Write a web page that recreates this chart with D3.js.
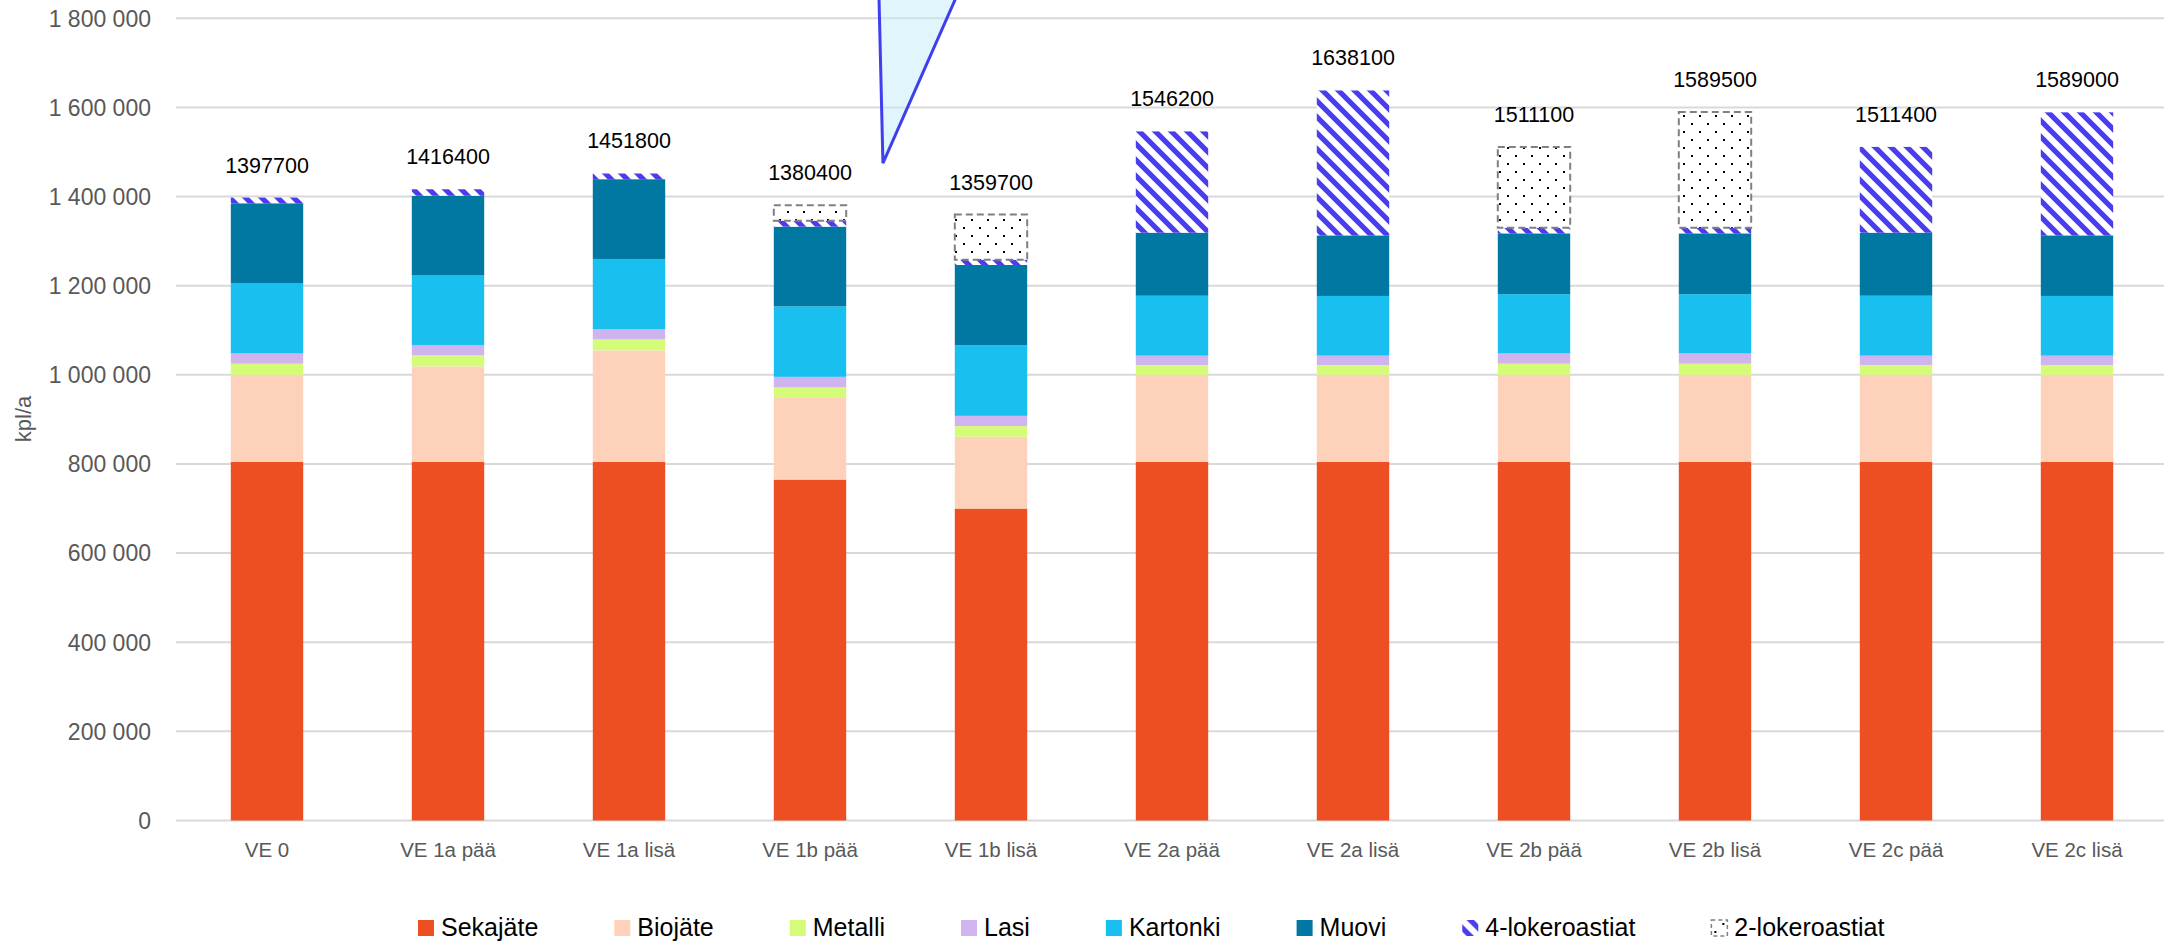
<!DOCTYPE html>
<html>
<head>
<meta charset="utf-8">
<script src="https://cdn.jsdelivr.net/npm/d3@7"></script>
<style>
  html, body { margin: 0; padding: 0; background: #fff; }
  svg { display: block; }
  text { font-family: "Liberation Sans", Arial, sans-serif; }
</style>
</head>
<body>
<svg id="chart" width="2164" height="942"></svg>
<script>
// ---------- data ----------
const categories = ['VE 0','VE 1a pää','VE 1a lisä','VE 1b pää','VE 1b lisä','VE 2a pää','VE 2a lisä','VE 2b pää','VE 2b lisä','VE 2c pää','VE 2c lisä'];
const seriesNames = ['Sekajäte','Biojäte','Metalli','Lasi','Kartonki','Muovi','4-lokeroastiat','2-lokeroastiat'];
const sekajate  = [805000,805000,805000,765000,700000,805000,805000,805000,805000,805000,805000];
const biojate   = [195000,214000,250000,183000,161000,195000,195000,195000,195000,195000,195000];
const metalli   = [25000,25000,24500,24000,24000,22000,22000,25000,25000,22000,22000];
const lasi      = [23000,23000,22500,23500,23000,21000,21000,23000,23000,21000,21000];
const kartonki  = [158000,157000,158000,158000,158500,134500,134000,133000,133000,134500,134000];
const muovi     = [179000,178000,179000,179000,180000,141500,136000,136500,136500,141500,136000];
const lokero4   = [12700,14400,12800,13500,12000,227200,325100,12500,12500,192400,276000];
const lokero2   = [0,0,0,34400,101200,0,0,181100,259500,0,0];
const totals    = [1397700,1416400,1451800,1380400,1359700,1546200,1638100,1511100,1589500,1511400,1589000];
const yTicks    = [0,200000,400000,600000,800000,1000000,1200000,1400000,1600000,1800000];
const yTitle    = 'kpl/a';
// callout tail (band units, value)
const calloutPts = [[3.878,1900000],[3.903,1475000],[4.365,1900000]];

const colors = {
  'Sekajäte':'#EE4F22','Biojäte':'#FED2BA','Metalli':'#D5FC78','Lasi':'#D0B4EF',
  'Kartonki':'#18BFEF','Muovi':'#0078A2','4-lokeroastiat':'url(#hatch)','2-lokeroastiat':'url(#dots)'
};

const valuesBySeries = [sekajate,biojate,metalli,lasi,kartonki,muovi,lokero4,lokero2];
const table = categories.map((c,i)=>{
  const row = {cat:c};
  seriesNames.forEach((s,j)=>row[s]=valuesBySeries[j][i]);
  return row;
});

// ---------- layout ----------
const svg = d3.select('#chart');
const x = d3.scaleBand().domain(categories).range([176.5, 2167.5]).paddingInner(0.6).paddingOuter(0.3);
const y = d3.scaleLinear().domain([0,1800000]).range([820.5, 18.3]);
const bandPos = u => x.range()[0] + x.step()*(u - 0.5 + 0.5) ; // u in band units from left edge (incl. outer padding offset handled below)

// patterns
const defs = svg.append('defs');
const hp = defs.append('pattern').attr('id','hatch').attr('patternUnits','userSpaceOnUse').attr('width',16).attr('height',16);
hp.append('rect').attr('width',16).attr('height',16).attr('fill','#fff');
hp.append('path').attr('d','M-4,-4 L20,20 M12,-4 L20,4 M-4,12 L4,20').attr('stroke','#4A3CF0').attr('stroke-width',5.2).attr('fill','none');
const dp = defs.append('pattern').attr('id','dots').attr('patternUnits','userSpaceOnUse').attr('width',16).attr('height',16);
dp.append('rect').attr('width',16).attr('height',16).attr('fill','#fff');
dp.append('rect').attr('x',3).attr('y',3).attr('width',2).attr('height',2).attr('fill','#000');
dp.append('rect').attr('x',11).attr('y',11).attr('width',2).attr('height',2).attr('fill','#000');

// gridlines
svg.append('g').selectAll('line').data(yTicks).join('line')
  .attr('x1',176).attr('x2',2164)
  .attr('y1',d=>y(d)).attr('y2',d=>y(d))
  .attr('stroke','#D9D9D9').attr('stroke-width',2);

// y tick labels
const fmt = v => d3.format(',')(v).replace(/,/g,' ');
svg.append('g').selectAll('text').data(yTicks).join('text')
  .attr('x',151).attr('y',d=>y(d)).attr('dy','0.36em')
  .attr('text-anchor','end').attr('font-size',23).attr('fill','#595959')
  .text(fmt);

// y title
svg.append('text').attr('transform',`translate(31,${419}) rotate(-90)`)
  .attr('text-anchor','middle').attr('font-size',22).attr('fill','#595959').text(yTitle);

// stacked bars
const stack = d3.stack().keys(seriesNames)(table);
const gBars = svg.append('g');
stack.forEach(layer=>{
  const key = layer.key;
  gBars.append('g').selectAll('rect').data(layer.filter(d=>d[1]-d[0]>0)).join('rect')
    .attr('x',d=>x(d.data.cat))
    .attr('width',x.bandwidth())
    .attr('y',d=>y(d[1]))
    .attr('height',d=>y(d[0])-y(d[1]))
    .attr('fill',colors[key])
    .attr('stroke', key==='2-lokeroastiat' ? '#808080' : 'none')
    .attr('stroke-width', key==='2-lokeroastiat' ? 2 : 0)
    .attr('stroke-dasharray', key==='2-lokeroastiat' ? '7,4' : null);
});

// total labels
svg.append('g').selectAll('text').data(categories).join('text')
  .attr('x',d=>x(d)+x.bandwidth()/2)
  .attr('y',(d,i)=>y(totals[i])-25)
  .attr('text-anchor','middle').attr('font-size',21.5).attr('fill','#000')
  .text((d,i)=>totals[i]);

// x labels
svg.append('g').selectAll('text').data(categories).join('text')
  .attr('x',d=>x(d)+x.bandwidth()/2).attr('y',856.5)
  .attr('text-anchor','middle').attr('font-size',20.5).attr('fill','#595959')
  .text(d=>d);

// callout tail
const cx = u => x.range()[0] + u*x.step();
svg.append('path')
  .attr('d', d3.line()(calloutPts.map(p=>[cx(p[0]), y(p[1])])))
  .attr('fill','#C4ECFA').attr('fill-opacity',0.5)
  .attr('stroke','#3F3FEE').attr('stroke-width',3).attr('stroke-linejoin','miter');

// legend
const lg = svg.append('g');
let lx = 418;
seriesNames.forEach(s=>{
  const g = lg.append('g').attr('transform',`translate(${lx},0)`);
  g.append('rect').attr('x',0).attr('y',920).attr('width',16).attr('height',16)
    .attr('fill',colors[s])
    .attr('stroke', s==='2-lokeroastiat' ? '#808080' : 'none')
    .attr('stroke-width', s==='2-lokeroastiat' ? 1.5 : 0)
    .attr('stroke-dasharray', s==='2-lokeroastiat' ? '4,3' : null);
  const t = g.append('text').attr('x',23).attr('y',936).attr('font-size',25).attr('fill','#000').text(s);
  lx += 23 + t.node().getComputedTextLength() + 76;
});
</script>
</body>
</html>
